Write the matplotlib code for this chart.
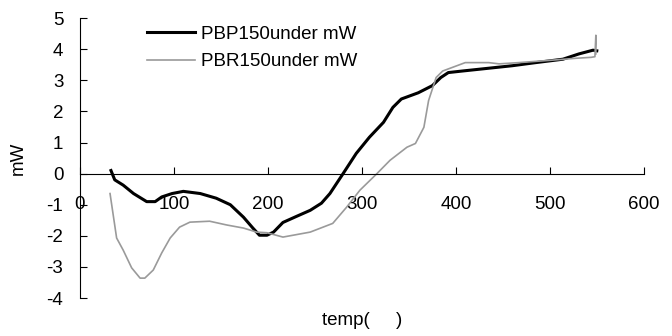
import matplotlib.pyplot as plt

# Series (temp vs mW)
pbp_temp = [33, 37, 46, 57, 71, 80, 87, 98, 110, 128, 145, 160, 174, 184, 191, 199,
            206, 216, 230, 245, 257, 266, 280, 294, 308, 323, 333, 342, 360, 375, 384, 392,
            407, 432, 460, 485, 514, 531, 546, 550]
pbp_mw = [0.1, -0.2, -0.37, -0.64, -0.9, -0.9, -0.75, -0.64, -0.57, -0.64, -0.79, -1.0,
          -1.4, -1.75, -1.98, -1.98, -1.88, -1.57, -1.38, -1.18, -0.95, -0.64, 0.0, 0.65,
          1.17, 1.65, 2.13, 2.4, 2.6, 2.83, 3.09, 3.25, 3.3, 3.38, 3.47, 3.57, 3.68, 3.85,
          3.97, 3.95]

pbr_temp = [32, 39, 46, 55, 64, 69, 78, 87, 96, 106, 117, 138, 156, 174, 188, 199,
            216, 245, 269, 284, 298, 316, 330, 348, 357, 366, 371, 379, 386, 410,
            435, 446, 467, 503, 528, 544, 548, 549, 549]
pbr_mw = [-0.64, -2.07, -2.46, -3.03, -3.36, -3.36, -3.1, -2.55, -2.07, -1.72, -1.56,
          -1.53, -1.65, -1.75, -1.88, -1.9, -2.04, -1.88, -1.6, -1.07, -0.53, 0.0, 0.43,
          0.85, 0.97, 1.49, 2.35, 3.09, 3.3, 3.57, 3.57, 3.53, 3.57, 3.65, 3.71, 3.74,
          3.76, 4.45, 3.85]

x_ticks = [0, 100, 200, 300, 400, 500, 600]
y_ticks = [-4, -3, -2, -1, 0, 1, 2, 3, 4, 5]

plt.rcParams['font.family'] = ['Liberation Sans', 'DejaVu Sans']
plt.rcParams['axes.unicode_minus'] = False

fig = plt.figure(figsize=(6.72, 3.36), dpi=100)
ax = fig.add_axes([0.119, 0.113, 0.839, 0.833])

ax.plot(pbp_temp, pbp_mw, color='black', lw=2.2, label='PBP150under mW')
ax.plot(pbr_temp, pbr_mw, color='#9a9a9a', lw=1.2, label='PBR150under mW')

ax.set_xlim(0, 600)
ax.set_ylim(-4, 5)
ax.set_xticks(x_ticks)
ax.set_yticks(y_ticks)

ax.spines['top'].set_visible(False)
ax.spines['right'].set_visible(False)
ax.spines['bottom'].set_position(('data', 0))
ax.spines['left'].set_linewidth(0.8)
ax.spines['bottom'].set_linewidth(0.8)

ax.tick_params(axis='both', direction='in', length=5, width=0.8, labelsize=13.5)
ax.tick_params(axis='x', pad=16)
ax.tick_params(axis='y', pad=12)

ax.set_xlabel('temp(     )', fontsize=13.5)
ax.xaxis.set_label_coords(0.5, -0.05)
ax.set_ylabel('mW', fontsize=13.5)
ax.yaxis.set_label_coords(-0.095, 0.5)

ax.legend(loc='upper left', bbox_to_anchor=(0.105, 1.0), frameon=False,
          fontsize=13.5, handlelength=2.6, handletextpad=0.3, labelspacing=0.55,
          borderaxespad=0)

fig.savefig('out.png', dpi=100)
